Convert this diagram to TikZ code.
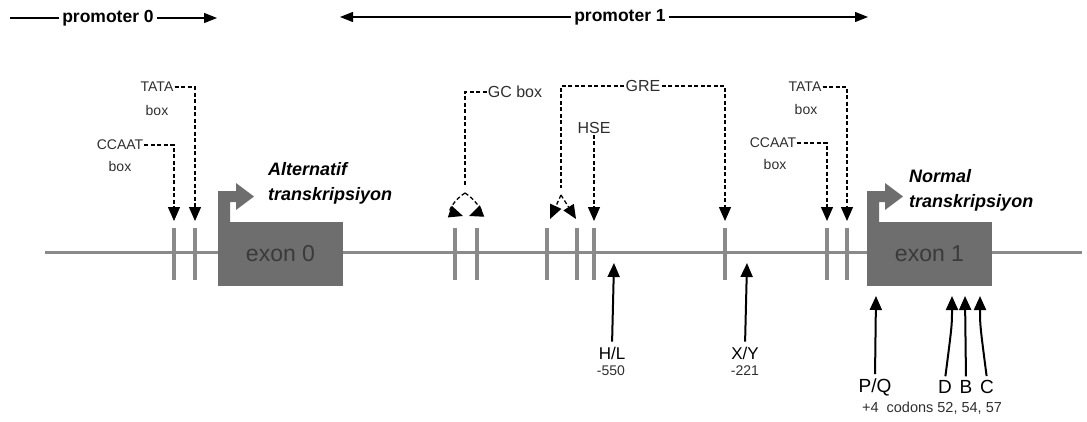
\documentclass[tikz,border=0pt]{standalone}
\usepackage{fontspec}
\setmainfont{Liberation Sans}
\usetikzlibrary{arrows.meta}
\definecolor{dnagray}{HTML}{8A8A8A}
\definecolor{exongray}{HTML}{6E6E6E}
\definecolor{exontext}{HTML}{3A3A3A}
\definecolor{lblgray}{HTML}{2E2E2E}

\begin{document}
\begin{tikzpicture}[x=1pt,y=-1pt,
  tick/.style={fill=dnagray,minimum width=4pt,minimum height=52pt,inner sep=0pt,outer sep=0pt},
  exon/.style={fill=exongray,text=exontext,minimum width=125pt,minimum height=64pt,inner sep=0pt,outer sep=0pt,font=\fontsize{23}{23}\selectfont},
  lbl/.style={text=lblgray,inner sep=1pt,font=\fontsize{14}{14}\selectfont},
  site/.style={text=lblgray,inner sep=1pt,font=\fontsize{16}{16}\selectfont},
  mut/.style={text=black,inner sep=1pt,font=\fontsize{17}{17}\selectfont},
  dsh/.style={black,line width=1.3pt,dash pattern=on 4pt off 2.5pt,-{Triangle[length=14pt,width=12pt]},shorten >=7pt},
  uparr/.style={black,line width=2pt,-{Triangle[length=14pt,width=12pt]}},
  prom/.style={black,line width=1.2pt},
  trs/.style={text=black,align=left,anchor=west,inner sep=0pt,font=\fontsize{18}{25}\selectfont\bfseries\itshape}]
  \useasboundingbox (0,0) rectangle (1087,421);

  % promoter ranges
  \node[font=\fontsize{17.5}{17.5}\selectfont\bfseries] (p0) at (108,18) {promoter 0};
  \coordinate (p0a) at (10,18);
  \coordinate (p0b) at (217,18);
  \draw[prom] (p0a) -- (p0.west);
  \draw[prom,-{Triangle[length=13pt,width=10pt]}] (p0.east) -- (p0b);
  \node[font=\fontsize{17.5}{17.5}\selectfont\bfseries] (p1) at (620,17) {promoter 1};
  \coordinate (p1a) at (340,17);
  \coordinate (p1b) at (868,17);
  \draw[prom,-{Triangle[length=13pt,width=10pt]}] (p1.west) -- (p1a);
  \draw[prom,-{Triangle[length=13pt,width=10pt]}] (p1.east) -- (p1b);

  % DNA line
  \coordinate (dnaL) at (45,252);
  \coordinate (dnaR) at (1082,252);
  \draw[dnagray,line width=3pt] (dnaL) -- (dnaR);

  % elements on the line
  \node[tick] (t1) at (174,254) {};
  \node[tick] (t2) at (195,254) {};
  \node[tick] (t3) at (455,254) {};
  \node[tick] (t4) at (477,254) {};
  \node[tick] (t5) at (547,254) {};
  \node[tick] (t6) at (577,254) {};
  \node[tick] (t7) at (594,254) {};
  \node[tick] (t8) at (725,254) {};
  \node[tick] (t9) at (827,254) {};
  \node[tick] (t10) at (847,254) {};

  % exons with start arrows
  \node[exon] (exon0) at (280.5,254) {exon 0};
  \fill[exongray] (exon0.north west) -- ++(0,-31) -- ++(18,0) -- ++(0,-8) -- ++(18,13.5)
    -- ++(-18,13.5) -- ++(0,-8) -- ++(-6,0) -- ++(0,20) -- cycle;
  \node[exon] (exon1) at (929.5,254) {exon 1};
  \fill[exongray] (exon1.north west) -- ++(0,-31) -- ++(18,0) -- ++(0,-8) -- ++(18,13.5)
    -- ++(-18,13.5) -- ++(0,-8) -- ++(-6,0) -- ++(0,20) -- cycle;
  \node[trs] (alt) at (268,183) {Alternatif\\transkripsiyon};
  \node[trs] (norm) at (909,190) {Normal\\transkripsiyon};

  % promoter 0 boxes
  \node[lbl] (tata0) at (157,87) {TATA};
  \node[lbl] (tata0b) at (157,110) {box};
  \node[lbl] (ccaat0) at (120,145) {CCAAT};
  \node[lbl] (ccaat0b) at (120,166) {box};
  \draw[dsh] (tata0.east) -| (t2.north);
  \draw[dsh] (ccaat0.east) -| (t1.north);

  % promoter 1 boxes
  \node[lbl] (tata1) at (805,87) {TATA};
  \node[lbl] (tata1b) at (806,109) {box};
  \node[lbl] (ccaat1) at (773,143) {CCAAT};
  \node[lbl] (ccaat1b) at (775,164) {box};
  \draw[dsh] (tata1.east) -| (t10.north);
  \draw[dsh] (ccaat1.east) -| (t9.north);

  % GC box, GRE, HSE
  \node[site] (gc) at (515,92) {GC box};
  \coordinate (gcs) at (465,193);
  \coordinate (gcl) at (463,216);
  \coordinate (gcr) at (469,216);
  \draw[dsh,-] (gc.west) -| (gcs);
  \draw[dsh,shorten >=0pt] (gcs) .. controls (455,199) and (448,211) .. (gcl);
  \draw[dsh,shorten >=0pt] (gcs) .. controls (475,199) and (482,211) .. (gcr);

  \node[site] (gre) at (643,86) {GRE};
  \coordinate (gres) at (561,195);
  \coordinate (grel) at (550,219);
  \coordinate (grer) at (576,219);
  \draw[dsh,-] (gre.west) -| (gres);
  \draw[dsh,shorten >=0pt] (gres) -- (grel);
  \draw[dsh,shorten >=0pt] (gres) -- (grer);
  \draw[dsh] (gre.east) -| (t8.north);

  \node[site] (hse) at (594,128) {HSE};
  \draw[dsh] (hse.south) -- (t7.north);

  % polymorphisms
  \node[mut] (hl) at (612,353) {H/L};
  \node[lbl] (hln) at (611,371) {-550};
  \coordinate (hlt) at (614,263);
  \draw[uparr,shorten <=4pt] (hl.north) -- (hlt);
  \node[mut] (xy) at (745,353) {X/Y};
  \node[lbl] (xyn) at (745,371) {-221};
  \coordinate (xyt) at (747,263);
  \draw[uparr,shorten <=4pt] (xy.north) -- (xyt);

  \node[mut,font=\fontsize{19}{19}\selectfont] (pq) at (875,387) {P/Q};
  \node[mut,font=\fontsize{19}{19}\selectfont] (d) at (945,387) {D};
  \node[mut,font=\fontsize{19}{19}\selectfont] (b) at (966,387) {B};
  \node[mut,font=\fontsize{19}{19}\selectfont] (c) at (987,387) {C};
  \node[lbl,font=\fontsize{14.5}{14.5}\selectfont] (cod) at (932,408) {+4\ \ codons 52, 54, 57};
  \coordinate (pqt) at (876,296);
  \coordinate (dt) at (952,296);
  \coordinate (bt) at (965,296);
  \coordinate (ct) at (980,296);
  \draw[uparr,shorten <=3pt] (pq.north) -- (pqt);
  \draw[uparr,shorten <=3pt] (d.north) .. controls (952,325) .. (dt);
  \draw[uparr,shorten <=3pt] (b.north) -- (bt);
  \draw[uparr,shorten <=3pt] (c.north) .. controls (980,325) .. (ct);
\end{tikzpicture}
\end{document}
